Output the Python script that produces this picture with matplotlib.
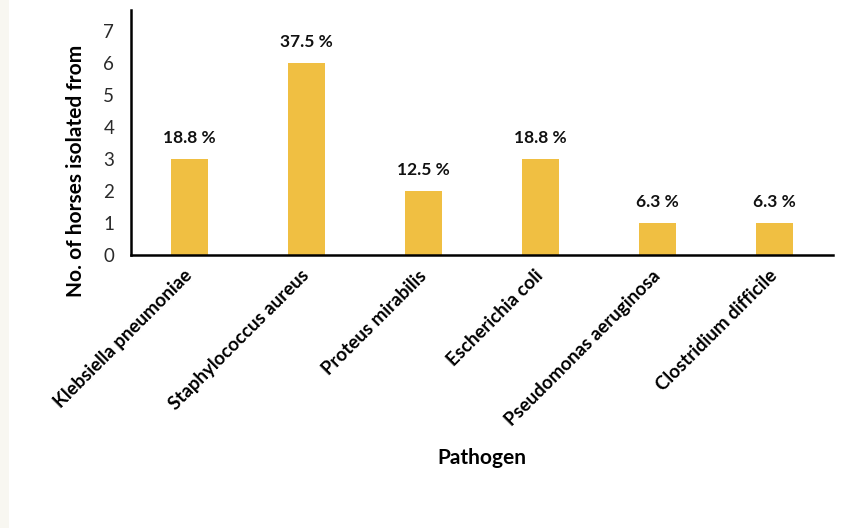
import numpy as np
import matplotlib
matplotlib.use('Agg')
import matplotlib.pyplot as plt
from matplotlib.patches import Rectangle

# isolates per pathogen and share of horses
pathogens = ['Klebsiella pneumoniae', 'Staphylococcus aureus', 'Proteus mirabilis',
             'Escherichia coli', 'Pseudomonas aeruginosa', 'Clostridium difficile']
counts = [3, 6, 2, 3, 1, 1]
percents = ['18.8 %', '37.5 %', '12.5 %', '18.8 %', '6.3 %', '6.3 %']
yticks = [0, 1, 2, 3, 4, 5, 6, 7]

plt.rcParams['font.family'] = ['Lato', 'DejaVu Sans']

fig = plt.figure(figsize=(8.6, 5.28), dpi=100)
fig.patch.set_facecolor('white')
# pale strip on the left edge
fig.patches.append(Rectangle((0, 0), 9/860., 1, transform=fig.transFigure,
                             facecolor='#f8f7f1', edgecolor='none', zorder=-1))

ax = fig.add_axes([131/860., 1-255/528., 702/860., 245/528.])
x = np.arange(len(pathogens))
ax.bar(x, counts, width=0.31, color='#f0bf42', zorder=2)

for xi, c, p in zip(x, counts, percents):
    ax.text(xi, c + 0.40, p, ha='center', va='bottom', fontsize=12.5,
            fontweight='bold', color='#111111')

ax.set_xlim(-0.5, 5.5)
ax.set_ylim(0, 7.66)
ax.set_yticks(yticks)
ax.set_xticks(x)
ax.set_xticklabels(pathogens, rotation=45, ha='right', va='center',
                   rotation_mode='anchor', fontsize=13.5, fontweight='bold')
ax.tick_params(axis='x', length=0, pad=13)
ax.tick_params(axis='y', length=0, pad=12, labelsize=13.5, labelcolor='#2a2a2a')

for s in ['top', 'right']:
    ax.spines[s].set_visible(False)
for s in ['left', 'bottom']:
    ax.spines[s].set_linewidth(1.8)
    ax.spines[s].set_color('black')

ax.set_ylabel('No. of horses isolated from', fontsize=15, fontweight='bold')
ax.yaxis.set_label_coords(-0.064, 0.343)
ax.set_xlabel('Pathogen', fontsize=15, fontweight='bold')
ax.xaxis.set_label_coords(0.5, -0.829)
ax.xaxis.label.set_va('center')

fig.savefig('out.png', dpi=100, facecolor=fig.get_facecolor())
